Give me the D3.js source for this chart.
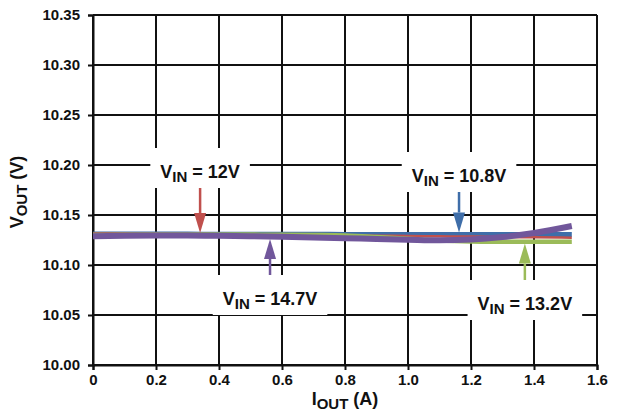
<!DOCTYPE html>
<html>
<head>
<meta charset="utf-8">
<script src="https://cdn.jsdelivr.net/npm/d3@7"></script>
<style>
  html, body { margin: 0; padding: 0; background: #fff; }
  svg { display: block; font-family: "Liberation Sans", Arial, sans-serif; font-weight: bold; }
</style>
</head>
<body>
<svg id="chart" width="617" height="416"></svg>
<script>
// Output current (A) at which each curve is sampled
const currents = [0, 0.1, 0.2, 0.3, 0.4, 0.5, 0.6, 0.7, 0.8, 0.9, 1.0, 1.1, 1.2, 1.3, 1.4, 1.52];

// Output voltage (V) for each input voltage
const vout108 = [10.1310, 10.1310, 10.1309, 10.1309, 10.1308, 10.1308, 10.1307, 10.1307, 10.1306, 10.1306, 10.1306, 10.1305, 10.1305, 10.1305, 10.1305, 10.1305];
const vout12  = [10.1315, 10.1314, 10.1313, 10.1311, 10.1308, 10.1305, 10.1302, 10.1299, 10.1296, 10.1293, 10.1290, 10.1287, 10.1284, 10.1280, 10.1277, 10.1273];
const vout132 = [10.1300, 10.1302, 10.1304, 10.1305, 10.1305, 10.1304, 10.1303, 10.1300, 10.1295, 10.1280, 10.1262, 10.1245, 10.1236, 10.1233, 10.1232, 10.1232];
const vout147 = [10.1288, 10.1292, 10.1295, 10.1296, 10.1293, 10.1288, 10.1282, 10.1275, 10.1268, 10.1260, 10.1253, 10.1247, 10.1255, 10.1280, 10.1320, 10.1390];

// Axis ticks
const xTicks = [0, 0.2, 0.4, 0.6, 0.8, 1.0, 1.2, 1.4, 1.6];
const yTicks = [10.00, 10.05, 10.10, 10.15, 10.20, 10.25, 10.30, 10.35];

// Curve labels: input voltage text and the output current where each arrow points
const seriesNames  = ["10.8V", "12V", "13.2V", "14.7V"];
const arrowCurrent = [1.162, 0.34, 1.371, 0.562];

const seriesValues = [vout108, vout12, vout132, vout147];
const colors      = ["#3f6ea9", "#c0504d", "#9bbb59", "#71579b"];
const widths      = [5, 2.5, 4.5, 6];
// label placement: arrow direction (-1 = label above, arrow points down), label baseline y
const labelSide     = [-1, -1, 1, 1];
const labelBaseline = [182, 178, 310, 305];

const svg = d3.select("#chart");
const x = d3.scaleLinear().domain([0, 1.6]).range([93, 597]);
const y = d3.scaleLinear().domain([10.00, 10.35]).range([365, 15]);
const ink = "#111";

// grid
const grid = svg.append("g").attr("stroke", ink).attr("stroke-width", 2);
grid.selectAll("line.v").data(xTicks).join("line")
  .attr("x1", d => x(d)).attr("x2", d => x(d))
  .attr("y1", y(10.35)).attr("y2", y(10.00));
grid.selectAll("line.h").data(yTicks).join("line")
  .attr("x1", x(0)).attr("x2", x(1.6))
  .attr("y1", d => y(d)).attr("y2", d => y(d));

// axes
const xAxis = d3.axisBottom(x).tickValues(xTicks)
  .tickFormat(d => d === 0 ? "0" : d3.format(".1f")(d))
  .tickSize(5).tickPadding(4);
const yAxis = d3.axisLeft(y).tickValues(yTicks)
  .tickFormat(d3.format(".2f")).tickSize(5).tickPadding(8);

const gx = svg.append("g").attr("transform", `translate(0,${y(10.00)})`).call(xAxis);
const gy = svg.append("g").attr("transform", `translate(${x(0)},0)`).call(yAxis);
[gx, gy].forEach(g => {
  g.select(".domain").attr("stroke", ink).attr("stroke-width", 2);
  g.selectAll(".tick line").attr("stroke", ink).attr("stroke-width", 2);
  g.selectAll(".tick text").attr("fill", ink)
    .style("font-family", "'Liberation Sans', Arial, sans-serif")
    .style("font-weight", "bold").style("font-size", "15px");
});

// helper: value of a series at a given current (linear between samples)
function valueAt(vals, c) {
  return d3.scaleLinear().domain(currents).range(vals).clamp(true)(c);
}

// label boxes and text
const labelLayer = svg.append("g");
seriesNames.forEach((name, i) => {
  const cx = x(arrowCurrent[i]);
  const base = labelBaseline[i];
  const g = labelLayer.append("g");
  const rect = g.append("rect").attr("fill", "#fff");
  const t = g.append("text").attr("x", cx).attr("y", base)
    .attr("text-anchor", "middle").attr("fill", ink).style("font-size", "18px");
  t.append("tspan").text("V");
  t.append("tspan").attr("dy", 4).style("font-size", "15px").text("IN");
  t.append("tspan").attr("dy", -4).text(" = " + name);
  const bb = t.node().getBBox();
  rect.attr("x", bb.x - 10).attr("width", bb.width + 20)
    .attr("y", base - 30).attr("height", 40);
});

// curves
const line = d3.line().x(d => x(d[0])).y(d => y(d[1])).curve(d3.curveMonotoneX);
seriesValues.forEach((vals, i) => {
  svg.append("path")
    .datum(currents.map((c, j) => [c, vals[j]]))
    .attr("fill", "none").attr("stroke", colors[i])
    .attr("stroke-width", widths[i]).attr("stroke-linejoin", "round")
    .attr("d", line);
});

// arrows from each label to its curve
seriesNames.forEach((name, i) => {
  const cx = x(arrowCurrent[i]);
  const side = labelSide[i];
  const lineY = y(valueAt(seriesValues[i], arrowCurrent[i]));
  const tip = lineY + side * (widths[i] / 2) * 0.8;
  const start = side < 0 ? labelBaseline[i] + 10 : labelBaseline[i] - 30;
  const headLen = 20, headHalf = 6;
  const headBase = tip + side * headLen;
  svg.append("line")
    .attr("x1", cx).attr("x2", cx).attr("y1", start).attr("y2", headBase)
    .attr("stroke", colors[i]).attr("stroke-width", 2.5);
  svg.append("path")
    .attr("d", `M${cx - headHalf},${headBase} L${cx + headHalf},${headBase} L${cx},${tip} Z`)
    .attr("fill", colors[i]);
});

// axis titles
const xt = svg.append("text").attr("x", 345).attr("y", 405)
  .attr("text-anchor", "middle").attr("fill", ink).style("font-size", "18px");
xt.append("tspan").text("I");
xt.append("tspan").attr("dy", 4).style("font-size", "15px").text("OUT");
xt.append("tspan").attr("dy", -4).text(" (A)");

const yt = svg.append("text")
  .attr("transform", "translate(23,192) rotate(-90)")
  .attr("text-anchor", "middle").attr("fill", ink).style("font-size", "18px");
yt.append("tspan").text("V");
yt.append("tspan").attr("dy", 4).style("font-size", "15px").text("OUT");
yt.append("tspan").attr("dy", -4).text(" (V)");
</script>
</body>
</html>
